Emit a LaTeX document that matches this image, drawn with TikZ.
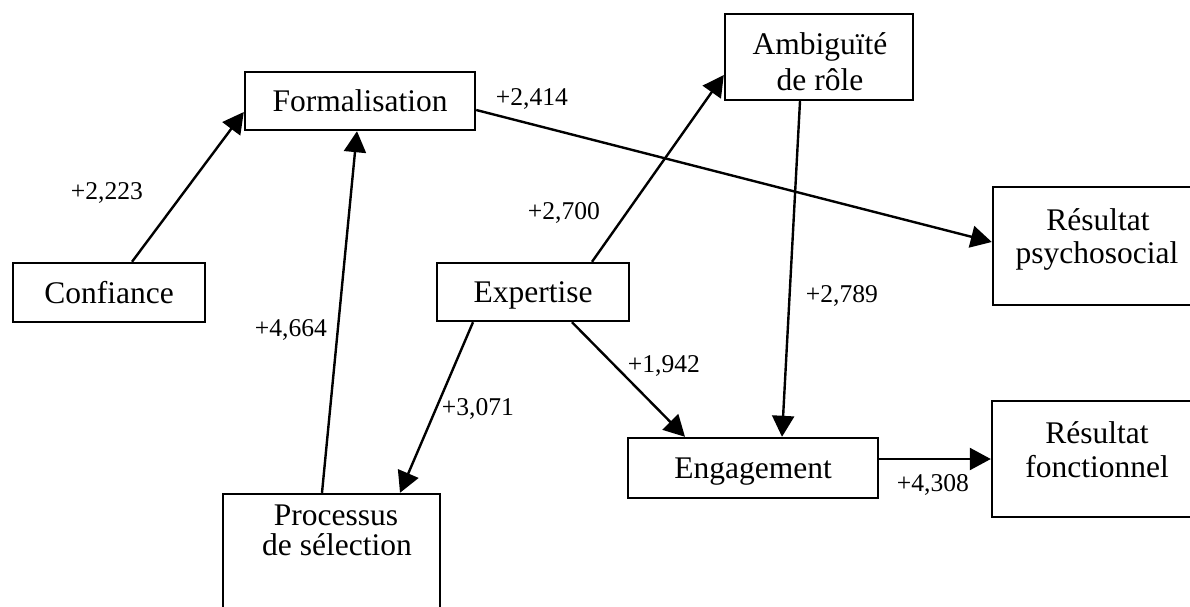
\documentclass[tikz,border=0pt]{standalone}
\usepackage{fontspec}
\setmainfont{Liberation Serif}
\usetikzlibrary{arrows.meta}
\begin{document}
\begin{tikzpicture}[x=1pt,y=-1pt,
  box/.style={draw, line width=2.4pt, inner sep=0pt,
    font=\fontsize{31.5}{33}\selectfont, text height=21pt, text depth=0pt},
  txt/.style={font=\fontsize{31.5}{33}\selectfont, inner sep=0pt, anchor=base},
  lab/.style={font=\fontsize{25.6}{28}\selectfont, inner sep=0pt},
  link/.style={line width=2.4pt, -{Triangle[length=21pt,width=22pt]}}]
\useasboundingbox (0,0) rectangle (1190,607);
\clip (0,0) rectangle (1190,607);

% boxes
\node[box, minimum width=192pt, minimum height=59pt] (conf) at (109,292.5) {Confiance};
\node[box, minimum width=230pt, minimum height=58pt] (form) at (360,101) {Formalisation};
\node[box, minimum width=192pt, minimum height=58pt] (expt) at (533,292) {Expertise};
\node[box, minimum width=250pt, minimum height=60pt] (eng) at (753,468) {Engagement};
\node[box, minimum width=188pt, minimum height=86pt] (amb) at (819,57) {};
\node[box, minimum width=208pt, minimum height=118pt] (rp) at (1097,246) {};
\node[box, minimum width=210pt, minimum height=116pt] (rf) at (1097,459) {};
\node[box, minimum width=217pt, minimum height=146pt] (proc) at (331.5,567) {};

% two-line box texts
\node[txt] (amb1) at (820,55) {Ambiguïté};
\node[txt] (amb2) at (820,91) {de rôle};
\node[txt] (rp1) at (1098,230) {Résultat};
\node[txt] (rp2) at (1097,263) {psychosocial};
\node[txt] (rf1) at (1097,443) {Résultat};
\node[txt] (rf2) at (1097,477) {fonctionnel};
\node[txt] (proc1) at (336,525) {Processus};
\node[txt] (proc2) at (337,555) {de sélection};

% connectors
\draw[link] ([xshift=23pt]conf.north) -- ([yshift=-11pt]form.west);
\draw[link] ([xshift=-9.5pt]proc.north) -- ([xshift=-3pt]form.south);
\draw[link] ([yshift=-9pt]form.east) -- ([yshift=4pt]rp.west);
\draw[link] ([xshift=59pt]expt.north) -- ([yshift=-18pt]amb.west);
\draw[link] ([xshift=-19pt]amb.south) -- ([xshift=29pt]eng.north);
\draw[link] ([xshift=39pt]expt.south) -- ([xshift=-68pt]eng.north);
\draw[link] ([xshift=-60pt]expt.south) -- ([xshift=68.5pt]proc.north);
\draw[link] (eng.east |- rf.west) -- (rf.west);

% coefficients
\node[lab] (c1) at (107,193) {+2,223};
\node[lab] (c2) at (532,99) {+2,414};
\node[lab] (c3) at (291,330) {+4,664};
\node[lab] (c4) at (564,213) {+2,700};
\node[lab] (c5) at (842,296) {+2,789};
\node[lab] (c6) at (664,366) {+1,942};
\node[lab] (c7) at (478,409) {+3,071};
\node[lab] (c8) at (933,485) {+4,308};
\end{tikzpicture}
\end{document}
